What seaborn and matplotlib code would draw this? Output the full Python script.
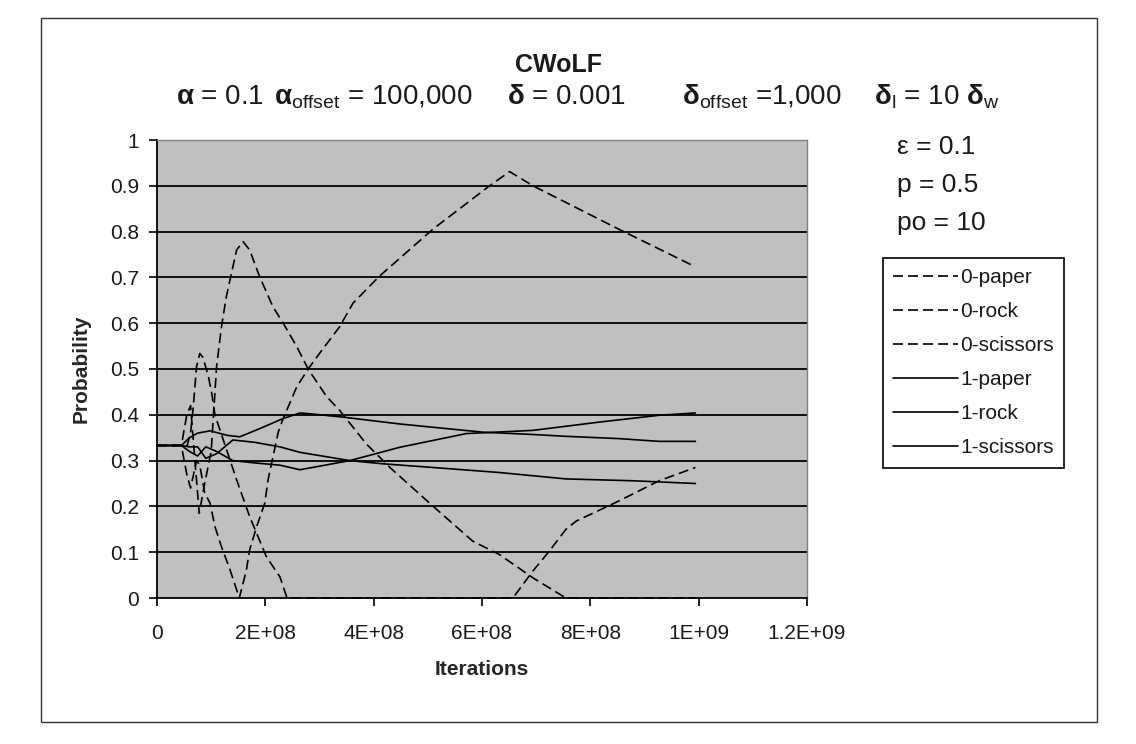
import numpy as np
import pandas as pd
import matplotlib
matplotlib.use("Agg")
import matplotlib.pyplot as plt
from matplotlib.patches import Rectangle
from matplotlib.ticker import FuncFormatter
import seaborn as sns

# Iterations are stored in units of 1E+08
ITER_UNIT = 1e8

paper0_x = [0, 0.45, 0.55, 0.62, 0.73, 0.79, 0.88, 0.98, 1.07, 1.19, 1.35, 1.52, 1.65, 1.71,
            1.84, 1.99, 2.05, 2.24, 2.33, 2.58, 2.79, 3.0, 3.37, 3.62, 4.11, 5.09, 6.14, 6.51,
            6.94, 8.53, 9.89]
paper0_y = [0.333, 0.333, 0.27, 0.24, 0.30, 0.29, 0.23, 0.207, 0.156, 0.112, 0.061, 0.0, 0.061,
            0.105, 0.156, 0.207, 0.258, 0.363, 0.392, 0.461, 0.50, 0.534, 0.592, 0.644, 0.703,
            0.805, 0.90, 0.931, 0.90, 0.805, 0.726]

rock0_x = [0, 0.45, 0.55, 0.62, 0.70, 0.78, 0.88, 1.0, 1.10, 1.19, 1.28, 1.38, 1.47, 1.59, 1.71,
           1.90, 2.14, 2.33, 2.58, 2.79, 3.13, 3.37, 3.86, 4.30, 5.09, 5.83, 6.32, 6.94, 7.55, 9.94]
rock0_y = [0.333, 0.333, 0.40, 0.42, 0.30, 0.185, 0.25, 0.32, 0.505, 0.592, 0.658, 0.712, 0.76,
           0.778, 0.76, 0.70, 0.636, 0.60, 0.549, 0.50, 0.44, 0.41, 0.337, 0.285, 0.201, 0.124,
           0.095, 0.044, 0.0, 0.0]

scissors0_x = [0, 0.45, 0.55, 0.62, 0.67, 0.70, 0.73, 0.79, 0.85, 0.95, 1.01, 1.07, 1.10, 1.47,
               1.71, 2.02, 2.27, 2.40, 6.57, 6.94, 7.24, 7.55, 7.74, 8.53, 9.27, 9.94]
scissors0_y = [0.333, 0.333, 0.33, 0.36, 0.418, 0.461, 0.505, 0.534, 0.525, 0.483, 0.447, 0.40,
               0.389, 0.258, 0.178, 0.09, 0.046, 0.0, 0.0, 0.059, 0.102, 0.15, 0.168, 0.212,
               0.256, 0.285]

paper1_x = [0, 0.45, 0.6, 0.75, 0.9, 1.1, 1.4, 1.8, 2.27, 2.64, 3.56, 4.48, 5.71, 6.94, 8.16,
            9.27, 9.94]
paper1_y = [0.333, 0.333, 0.32, 0.31, 0.33, 0.32, 0.30, 0.295, 0.29, 0.28, 0.30, 0.329, 0.359,
            0.366, 0.384, 0.399, 0.404]

rock1_x = [0, 0.45, 0.6, 0.75, 0.98, 1.3, 1.53, 1.9, 2.33, 2.64, 2.76, 3.43, 4.48, 6.02, 6.94,
           7.55, 8.53, 9.27, 9.94]
rock1_y = [0.333, 0.333, 0.35, 0.36, 0.365, 0.355, 0.352, 0.37, 0.392, 0.404, 0.403, 0.395, 0.38,
           0.362, 0.357, 0.353, 0.348, 0.342, 0.342]

scissors1_x = [0, 0.45, 0.6, 0.75, 0.9, 1.1, 1.4, 1.8, 2.27, 2.64, 3.56, 4.17, 5.09, 6.32, 7.55,
               8.78, 9.94]
scissors1_y = [0.333, 0.333, 0.33, 0.33, 0.305, 0.315, 0.345, 0.34, 0.33, 0.318, 0.30, 0.293,
               0.285, 0.274, 0.26, 0.256, 0.25]

series_names = ["0-paper", "0-rock", "0-scissors", "1-paper", "1-rock", "1-scissors"]
series_data = [(paper0_x, paper0_y), (rock0_x, rock0_y), (scissors0_x, scissors0_y),
               (paper1_x, paper1_y), (rock1_x, rock1_y), (scissors1_x, scissors1_y)]

y_ticks = [0, 0.1, 0.2, 0.3, 0.4, 0.5, 0.6, 0.7, 0.8, 0.9, 1.0]
x_ticks = [0, 2e8, 4e8, 6e8, 8e8, 1e9, 1.2e9]

frames = []
for name, (xs, ys) in zip(series_names, series_data):
    frames.append(pd.DataFrame({
        "Iterations": np.asarray(xs) * ITER_UNIT,
        "Probability": ys,
        "series": name,
    }))
df = pd.concat(frames, ignore_index=True)

sns.set_theme(style="white")
plt.rcParams["font.family"] = ["Liberation Sans", "DejaVu Sans"]
plt.rcParams["mathtext.fontset"] = "custom"
plt.rcParams["mathtext.rm"] = "Liberation Sans"
plt.rcParams["mathtext.bf"] = "Liberation Sans:bold"
plt.rcParams["mathtext.it"] = "Liberation Sans"

W, H = 1136, 744
fig = plt.figure(figsize=(W / 100, H / 100), dpi=100)
fig.patch.set_facecolor("white")


def fx(px):
    return px / W


def fy(py):
    return 1 - py / H


ax = fig.add_axes([fx(157), fy(598), fx(807) - fx(157), fy(140) - fy(598)])
ax.set_facecolor("#C0C0C0")

dash = (6, 3)
dashes = {n: (dash if n.startswith("0") else "") for n in series_names}
sns.lineplot(data=df, x="Iterations", y="Probability", hue="series", style="series",
             hue_order=series_names, style_order=series_names,
             palette={n: "black" for n in series_names}, dashes=dashes,
             estimator=None, sort=False, linewidth=1.2, ax=ax, zorder=3)

for ln in ax.get_lines():
    ln.set_clip_on(False)

ax.set_xlim(0, 1.2e9)
ax.set_ylim(0, 1.0)
ax.set_yticks(y_ticks)
ax.set_xticks(x_ticks)
ax.yaxis.set_major_formatter(FuncFormatter(lambda v, p: f"{v:g}"))


def excel_sci(v, p):
    if v == 0:
        return "0"
    e = int(np.floor(np.log10(abs(v)) + 1e-9))
    m = v / 10 ** e
    return f"{m:g}E+{e:02d}"


ax.xaxis.set_major_formatter(FuncFormatter(excel_sci))

for y in y_ticks[1:]:
    ax.axhline(y, color="black", linewidth=1.3, zorder=1)

for side in ["top", "right"]:
    ax.spines[side].set_color("#808080")
    ax.spines[side].set_linewidth(1.0)
for side in ["left", "bottom"]:
    ax.spines[side].set_color("black")
    ax.spines[side].set_linewidth(1.3)

ax.tick_params(axis="both", which="major", direction="out", length=6, width=1.2,
               color="black", labelsize=15, labelcolor="#1a1a1a",
               left=True, bottom=True)
ax.tick_params(axis="y", pad=7)
ax.tick_params(axis="x", pad=13)

ax.set_xlabel("Iterations", fontsize=15, fontweight="bold", labelpad=12)
ax.set_ylabel("Probability", fontsize=15, fontweight="bold", labelpad=14)

leg = ax.legend(loc="upper left", bbox_to_anchor=(fx(883), fy(258)),
                bbox_transform=fig.transFigure, borderaxespad=0, fontsize=15,
                frameon=True, fancybox=False, edgecolor="black", facecolor="white",
                framealpha=1, handlelength=3.1, handletextpad=0.1, labelspacing=0.72,
                borderpad=0.5)
leg.get_frame().set_linewidth(1.2)
for t in leg.get_texts():
    t.set_color("#1a1a1a")

# Title and parameter annotations
fig.text(fx(558), fy(65), "CWoLF", ha="center", va="center", fontsize=18,
         fontweight="bold", color="#1a1a1a")

param_y = fy(97)
params = [
    (176, r"$\mathbf{\alpha}$ = 0.1"),
    (274, r"$\mathbf{\alpha}_{\mathrm{offset}}$ = 100,000"),
    (507, r"$\mathbf{\delta}$ = 0.001"),
    (682, r"$\mathbf{\delta}_{\mathrm{offset}}$ =1,000"),
    (874, r"$\mathbf{\delta}_{\mathrm{l}}$ = 10 $\mathbf{\delta}_{\mathrm{w}}$"),
]
for px, s in params:
    fig.text(fx(px), param_y, s, ha="left", va="center", fontsize=20, color="#1a1a1a")

side_params = [(147, "ε = 0.1"), (185, "p = 0.5"), (223, "po = 10")]
for py, s in side_params:
    fig.text(fx(897), fy(py), s, ha="left", va="center", fontsize=19, color="#1a1a1a")

# Chart area border
fig.patches.append(Rectangle((fx(41), fy(722)), fx(1097) - fx(41), fy(18) - fy(722),
                             transform=fig.transFigure, fill=False,
                             edgecolor="#333333", linewidth=1.0, zorder=0))

fig.savefig("out.png", dpi=100)
